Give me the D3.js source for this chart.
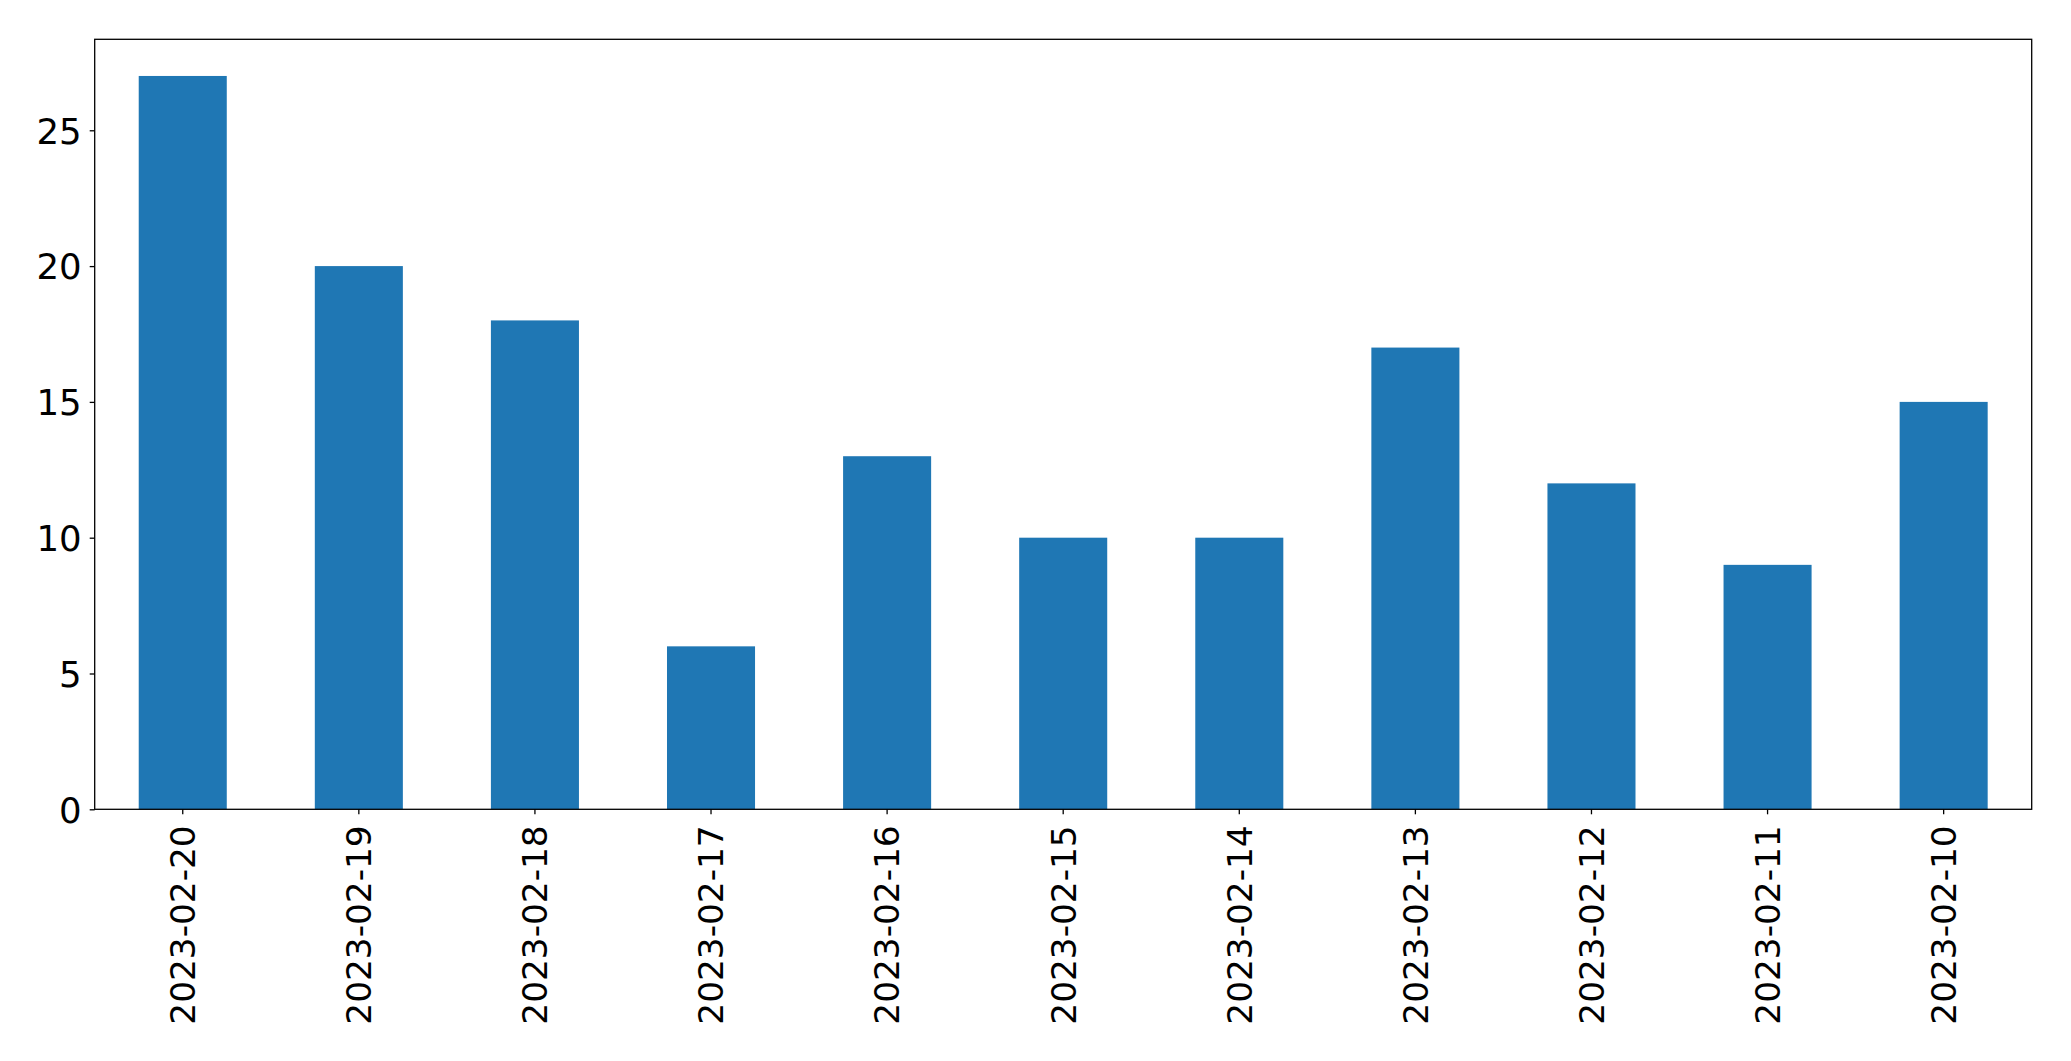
<!DOCTYPE html>
<html>
<head>
<meta charset="utf-8">
<script src="https://cdn.jsdelivr.net/npm/d3@7"></script>
<style>
  html, body { margin: 0; padding: 0; background: #fff; }
  svg { display: block; }
  text { font-family: "DejaVu Sans", sans-serif; fill: #000; }
</style>
</head>
<body>
<svg id="chart" width="2071" height="1061"></svg>
<script>
const categories = ["2023-02-20","2023-02-19","2023-02-18","2023-02-17","2023-02-16","2023-02-15","2023-02-14","2023-02-13","2023-02-12","2023-02-11","2023-02-10"];
const values = [27, 20, 18, 6, 13, 10, 10, 17, 12, 9, 15];
const yTicks = [0, 5, 10, 15, 20, 25];

const W = 2071, H = 1061;
const m = { left: 94.7, right: 2031.7, top: 39.3, bottom: 809.3 };
const svg = d3.select("#chart");

const x = d3.scaleBand().domain(categories).range([m.left, m.right]).paddingInner(0.5).paddingOuter(0.25);
const y = d3.scaleLinear().domain([0, d3.max(values) * 1.05]).range([m.bottom, m.top]);

svg.append("g").selectAll("rect").data(values).join("rect")
  .attr("x", (d, i) => x(categories[i]))
  .attr("width", x.bandwidth())
  .attr("y", d => y(d))
  .attr("height", d => y(0) - y(d))
  .attr("fill", "#1f77b4");

const yAxis = svg.append("g").attr("transform", `translate(${m.left},0)`)
  .call(d3.axisLeft(y).tickValues(yTicks).tickSize(5).tickPadding(8).tickFormat(d3.format("d")));
yAxis.select(".domain").remove();
yAxis.selectAll("line").attr("stroke", "#000").attr("stroke-width", 1.3);
yAxis.selectAll("text").attr("font-size", 35.5).attr("font-family", "DejaVu Sans").attr("dy", "0.36em");

const xAxis = svg.append("g").attr("transform", `translate(0,${m.bottom})`)
  .call(d3.axisBottom(x).tickSize(5).tickPadding(10));
xAxis.select(".domain").remove();
xAxis.selectAll("line").attr("stroke", "#000").attr("stroke-width", 1.3);
xAxis.selectAll("text")
  .attr("font-size", 34.3).attr("font-family", "DejaVu Sans")
  .attr("text-anchor", "end")
  .attr("transform", "rotate(-90)")
  .attr("x", -16).attr("y", 0).attr("dy", "0.36em");

svg.append("rect")
  .attr("x", m.left).attr("y", m.top)
  .attr("width", m.right - m.left).attr("height", m.bottom - m.top)
  .attr("fill", "none").attr("stroke", "#000").attr("stroke-width", 1.3);
</script>
</body>
</html>
